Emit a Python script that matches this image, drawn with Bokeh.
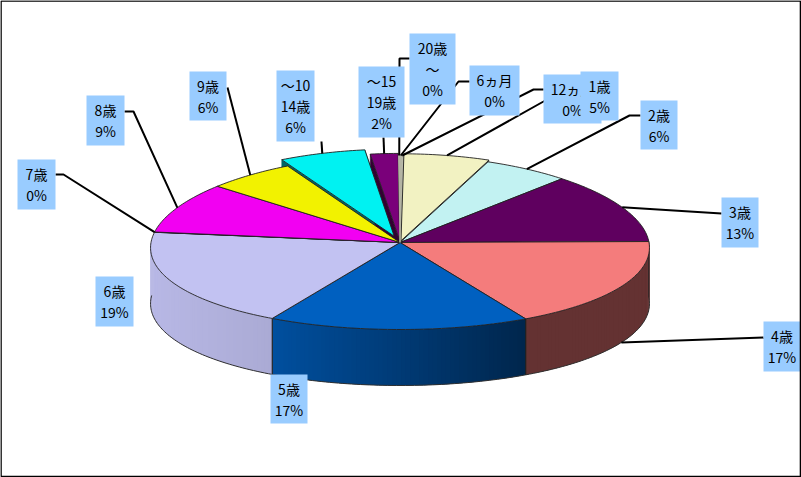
import numpy as np
from bokeh.plotting import figure
from bokeh.models import Range1d
from bokeh.embed import file_html
from bokeh.resources import INLINE
from bokeh.core.properties import value

# ---- data, clockwise from the top of the pie
categories = ["6ヵ月", "12ヵ月", "1歳", "2歳", "3歳", "4歳", "5歳", "6歳", "7歳",
              "8歳", "9歳", "～10\n14歳", "～15\n19歳", "20歳\n～"]
shares = [0.1, 0.1, 5.9, 5.8, 12.9, 17.2, 16.05, 18.75, 0.05, 9.25, 5.9, 5.9, 1.9, 0.1]
percent_labels = ["0%", "0%", "5%", "6%", "13%", "17%", "17%", "19%", "0%",
                  "9%", "6%", "6%", "2%", "0%"]

# ---- style and layout, same order as the data
colors = ["#B4B4A4", "#B4B4A4", "#F2F2C2", "#C2F2F2", "#5F005F", "#F47C7C", "#0060C0",
          "#C2C2F2", "#000078", "#F200F2", "#F2F200", "#00F2F2", "#7A007A", "#B4B4A4"]
explode = [0, 0, 5, 0, 0, 0, 0, 0, 0, 0, 0, 19, 6, 0]
# light on the wall of a slice at its left and right end (None: the slice shows no wall)
wall_light = [None, None, None, None, None, (0.41, 0.41), (0.83, 0.40), (0.95, 0.88),
              None, None, None, None, None, None]
# label box: left, top, right, bottom
boxes = [(469, 65, 519, 115), (543, 74, 601, 123), (580, 71, 618, 120), (640, 100, 677, 149),
         (721, 197, 758, 247), (763, 321, 800, 371), (270, 374, 307, 423), (95, 276, 133, 326),
         (17, 159, 55, 209), (86, 95, 124, 145), (189, 71, 226, 120), (276, 70, 314, 141),
         (358, 66, 404, 137), (409, 33, 455, 104)]
# where the leader bends, None for a straight run to the box
elbows = [(458, 81), (533, 89), (543, 101), (629, 115), None, None, None, None,
          (63, 174), (133, 111), None, None, None, (399, 58)]
# where the leader meets its box, None for a label without a leader
leader_ends = [(469, 81), (543, 89), (580, 79), (640, 115), (721, 213), (763, 337), None, None,
               (55, 174), (124, 111), (227, 87), (321, 141), (383, 137), (409, 58)]

CX, CY, RX, RY, DEPTH, PERSP = 399.5, 242.0, 249.0, 87.0, 56.0, 0.06
FONT = "Noto Sans CJK JP"


def project(t):
    return (CX + RX * np.sin(t) * (1 - PERSP * np.cos(t)), CY - RY * np.cos(t))


def shade(color, f):
    c = [int(color[i:i + 2], 16) for i in (1, 3, 5)]
    return "#%02x%02x%02x" % tuple(int(min(255, v * f)) for v in c)


total = sum(shares)
edges = np.concatenate([[0.0], np.cumsum(shares)]) / total * 2 * np.pi

p = figure(width=801, height=477, x_range=Range1d(0, 801), y_range=Range1d(477, 0),
           output_backend="svg", toolbar_location=None, min_border=0,
           x_axis_location=None, y_axis_location=None)
p.grid.visible = False
p.outline_line_color = None
p.background_fill_color = "white"

n = len(shares)
offsets = []
for i in range(n):
    mid = (edges[i] + edges[i + 1]) / 2
    offsets.append((explode[i] * np.sin(mid), -explode[i] * RY / RX * np.cos(mid)))

# cut faces of the slices pulled out of the pie
for i in range(n):
    if explode[i] == 0:
        continue
    dx, dy = offsets[i]
    for t in (edges[i], edges[i + 1]):
        x, y = project(t)
        c = shade(colors[i], 0.42)
        p.patch([CX + dx, x + dx, x + dx, CX + dx], [CY + dy, y + dy, y + dy + DEPTH, CY + dy + DEPTH],
                fill_color=c, line_color=c, line_width=0.5)

# front wall: overlapping bands, each painted over the last, so the light can change along it
WALL_FROM, WALL_TO = np.radians(88), np.radians(272)
for i in range(n):
    if wall_light[i] is None:
        continue
    a, b = max(edges[i], WALL_FROM), min(edges[i + 1], WALL_TO)
    ts = np.linspace(a, b, max(2, int((b - a) * 60)))
    xs, ys = project(ts)
    x_left, x_right = min(xs), max(xs)
    for j in range(len(ts) - 1):
        jj = min(j + 2, len(ts) - 1)
        pos = ((xs[j] + xs[j + 1]) / 2 - x_left) / (x_right - x_left)
        f = wall_light[i][0] + (wall_light[i][1] - wall_light[i][0]) * pos
        c = shade(colors[i], f)
        xx = np.concatenate([xs[j:jj + 1], xs[j:jj + 1][::-1]])
        yy = np.concatenate([ys[j:jj + 1], (ys[j:jj + 1] + DEPTH)[::-1]])
        p.patch(xx, yy, fill_color=c, line_color=None)
    p.line(xs, ys + DEPTH, line_color="#303030", line_width=1.0)
    for k in (0, -1):
        e = edges[i + (0 if k == 0 else 1)]
        if WALL_FROM < e < WALL_TO:
            p.line([xs[k], xs[k]], [ys[k], ys[k] + DEPTH], line_color="#202020", line_width=1.0)

# tops
for i in range(n):
    ts = np.linspace(edges[i], edges[i + 1], max(2, int((edges[i + 1] - edges[i]) * 60)))
    xs, ys = project(ts)
    dx, dy = offsets[i]
    tiny = shares[i] < 0.3 and colors[i] == "#B4B4A4"
    p.patch(np.concatenate([[CX], xs, [CX]]) + dx, np.concatenate([[CY], ys, [CY]]) + dy,
            fill_color=colors[i], line_color=colors[i] if tiny else "#202020",
            line_width=0.9, line_join="round")

# leaders
for i in range(n):
    if leader_ends[i] is None:
        continue
    mid = (edges[i] + edges[i + 1]) / 2
    x, y = project(mid)
    if np.cos(mid) < -0.2:
        y += DEPTH
    xs, ys = [x + offsets[i][0]], [y + offsets[i][1]]
    if elbows[i] is not None:
        xs.append(elbows[i][0]); ys.append(elbows[i][1])
    xs.append(leader_ends[i][0]); ys.append(leader_ends[i][1])
    p.line(xs, ys, line_color="black", line_width=2)

# labels
for i in range(n):
    l, t, r, b = boxes[i]
    p.quad(left=l, right=r, top=t, bottom=b, fill_color="#99CCFF", line_color=None)
    lines = categories[i].split("\n") + [percent_labels[i]]
    cx, cy = (l + r) / 2, (t + b) / 2
    for k, line in enumerate(lines):
        p.text([cx], [cy + (k - (len(lines) - 1) / 2) * 21], text=[line], text_align="center",
               text_baseline="middle", text_color="black", text_font=value(FONT), text_font_size="14px")

# frame of the chart area
p.quad(left=0.5, right=800, top=0.5, bottom=476, fill_color=None, line_color="black", line_width=1.6)

open("out.html", "w").write(file_html(p, INLINE))
